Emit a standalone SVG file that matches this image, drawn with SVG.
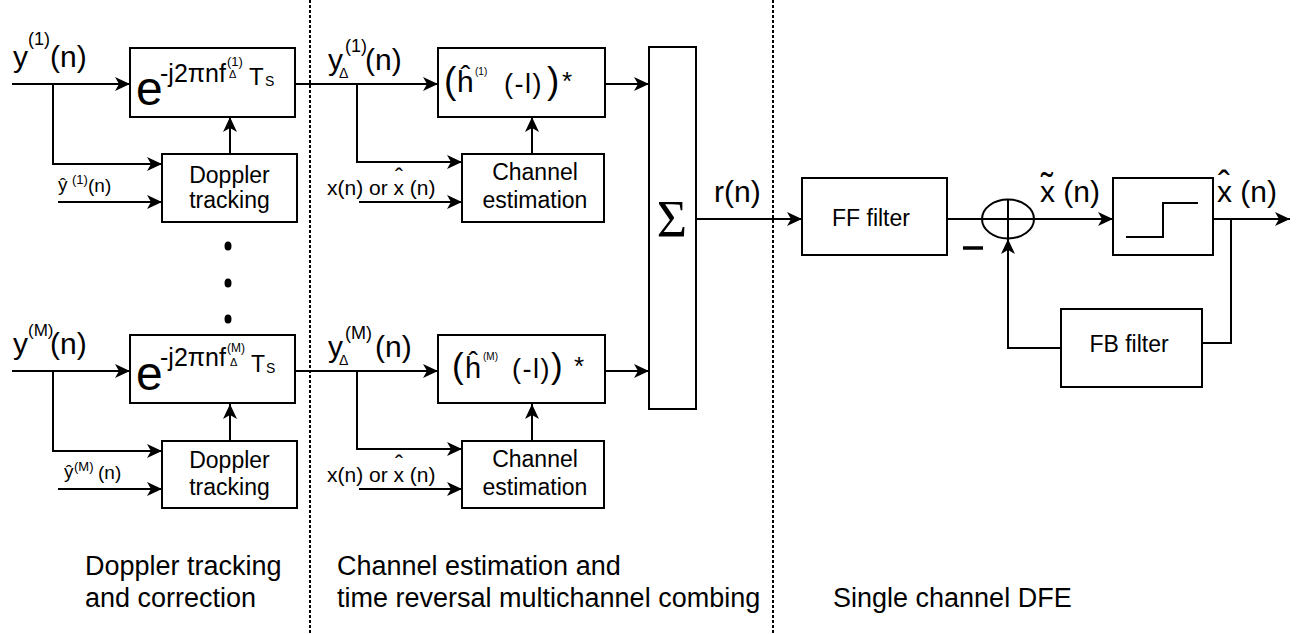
<svg xmlns="http://www.w3.org/2000/svg" width="1304" height="634" viewBox="0 0 1304 634">
<defs>
<marker id="arr" markerWidth="16" markerHeight="14" refX="15" refY="7" orient="auto" markerUnits="userSpaceOnUse">
<path d="M0,0 L15,7 L0,14 L4,7 Z" fill="#000"/>
</marker>
<style>
text{font-family:"Liberation Sans",Arial,sans-serif;fill:#000}
.box{fill:#fff;stroke:#000;stroke-width:2}
.ln{fill:none;stroke:#000;stroke-width:2}
.ar{fill:none;stroke:#000;stroke-width:2;marker-end:url(#arr)}
.dot{stroke:#000;stroke-width:2;stroke-dasharray:3 2}
.lbl{font-size:23px}
.big{font-size:30px}
.sec{font-size:27px}
.serif{font-family:"Liberation Serif","Times New Roman",serif}
</style>
</defs>
<rect width="1304" height="634" fill="#fff"/>
<g id="dividers">
<line class="dot" x1="310" y1="0" x2="310" y2="634"/>
<line class="dot" x1="773" y1="0" x2="773" y2="634"/>
</g>
<g id="connectors">
<path class="ar" d="M12,84 H130"/>
<path class="ar" d="M53,84 V164 H162"/>
<path class="ar" d="M58,202 H162"/>
<path class="ar" d="M230,154 V117"/>
<path class="ar" d="M295,84 H438"/>
<path class="ar" d="M357,84 V162 H462"/>
<path class="ar" d="M359,202 H462"/>
<path class="ar" d="M532,154 V117"/>
<path class="ar" d="M605,84 H649"/>
<path class="ar" d="M12,371 H130"/>
<path class="ar" d="M53,371 V451 H162"/>
<path class="ar" d="M58,489 H162"/>
<path class="ar" d="M230,441 V404"/>
<path class="ar" d="M295,371 H438"/>
<path class="ar" d="M357,371 V449 H462"/>
<path class="ar" d="M359,489 H462"/>
<path class="ar" d="M532,441 V404"/>
<path class="ar" d="M605,371 H649"/>
<path class="ar" d="M696,219 H802"/>
<path class="ln" d="M947,219 H982"/>
<path class="ar" d="M1034,219 H1113"/>
<path class="ar" d="M1213,219 H1290"/>
<path class="ln" d="M1231,219 V343 H1202"/>
<path class="ar" d="M1061,348 H1008 V239"/>
</g>
<g id="inputs-labels">
<text class="big" x="13" y="67">y</text>
<text x="28" y="45" font-size="18">(1)</text>
<text class="big" x="50" y="67">(n)</text>
<text x="58" y="191" font-size="19">ŷ</text>
<text x="72" y="184" font-size="13">(1)</text>
<text x="88" y="192" font-size="19">(n)</text>
<text class="big" x="13" y="354">y</text>
<text x="28" y="336" font-size="17">(M)</text>
<text class="big" x="50" y="354">(n)</text>
<text x="64" y="478" font-size="19">ŷ</text>
<text x="74" y="471" font-size="13">(M)</text>
<text x="98" y="479" font-size="19">(n)</text>
<text x="328" y="70" font-size="30">y</text>
<text x="339" y="78" font-size="14">Δ</text>
<text x="345" y="52" font-size="18">(1)</text>
<text x="365" y="70" font-size="30">(n)</text>
<text x="328" y="357" font-size="30">y</text>
<text x="339" y="365" font-size="14">Δ</text>
<text x="345" y="339" font-size="18">(M)</text>
<text x="375" y="357" font-size="30">(n)</text>
<text x="327" y="195" font-size="21">x(n) or x (n)</text>
<text x="395" y="185" font-size="24">ˆ</text>
<text x="327" y="482" font-size="21">x(n) or x (n)</text>
<text x="395" y="472" font-size="24">ˆ</text>
<text x="714" y="202" class="big">r(n)</text>
<text x="1040" y="202" class="big">x (n)</text>
<text x="1041" y="199" font-size="36">˜</text>
<text x="1217" y="202" class="big">x (n)</text>
<text x="1218" y="197" font-size="36">ˆ</text>
<line x1="963" y1="248" x2="983" y2="248" stroke="#000" stroke-width="3.5"/>
</g>
<g id="dots">
<ellipse cx="228" cy="246" rx="3.5" ry="4.5"/>
<ellipse cx="228" cy="283" rx="3.5" ry="4.5"/>
<ellipse cx="228" cy="319" rx="3.5" ry="4.5"/>
</g>
<g id="doppler-corr-1">
<rect class="box" x="130" y="48" width="165" height="69"/>
<text x="136" y="105" font-size="48">e</text>
<text x="160" y="82" font-size="25">-j2πnf</text>
<text x="227" y="66" font-size="13">(1)</text>
<text x="229" y="78" font-size="11">Δ</text>
<text x="249" y="85" font-size="24">T</text>
<text x="265" y="86" font-size="14">S</text>
</g>
<g id="doppler-track-1">
<rect class="box" x="162" y="154" width="135" height="68"/>
<text class="lbl" x="229.5" y="183" text-anchor="middle">Doppler</text>
<text class="lbl" x="229.5" y="208" text-anchor="middle">tracking</text>
</g>
<g id="tr-filter-1">
<rect class="box" x="438" y="48" width="167" height="69"/>
<text x="444" y="93" font-size="37">(</text>
<text x="457" y="92" font-size="30">ĥ</text>
<text x="475" y="75" font-size="10">(1)</text>
<text x="504" y="93" font-size="27" letter-spacing="1.5">(-l)</text>
<text x="547" y="93" font-size="37">)</text>
<text x="562" y="90" font-size="26">*</text>
</g>
<g id="chan-est-1">
<rect class="box" x="462" y="154" width="142" height="68"/>
<text class="lbl" x="535" y="180" text-anchor="middle">Channel</text>
<text class="lbl" x="535" y="208" text-anchor="middle">estimation</text>
</g>
<g id="doppler-corr-M">
<rect class="box" x="130" y="335" width="165" height="68"/>
<text x="136" y="390" font-size="48">e</text>
<text x="160" y="366" font-size="25">-j2πnf</text>
<text x="227" y="352" font-size="12">(M)</text>
<text x="230" y="366" font-size="11">Δ</text>
<text x="251" y="372" font-size="23">T</text>
<text x="266" y="373" font-size="14">S</text>
</g>
<g id="doppler-track-M">
<rect class="box" x="162" y="441" width="135" height="67"/>
<text class="lbl" x="229.5" y="468" text-anchor="middle">Doppler</text>
<text class="lbl" x="229.5" y="495" text-anchor="middle">tracking</text>
</g>
<g id="tr-filter-M">
<rect class="box" x="438" y="335" width="167" height="68"/>
<text x="452" y="378" font-size="35">(</text>
<text x="465" y="378" font-size="29">ĥ</text>
<text x="483" y="360" font-size="10">(M)</text>
<text x="512" y="378" font-size="27" letter-spacing="1.5">(-l)</text>
<text x="551" y="378" font-size="35">)</text>
<text x="574" y="375" font-size="26">*</text>
</g>
<g id="chan-est-M">
<rect class="box" x="462" y="441" width="142" height="67"/>
<text class="lbl" x="535" y="467" text-anchor="middle">Channel</text>
<text class="lbl" x="535" y="495" text-anchor="middle">estimation</text>
</g>
<g id="sum">
<rect class="box" x="649" y="47" width="47" height="362"/>
<text class="serif" x="672" y="237" font-size="52" text-anchor="middle">Σ</text>
</g>
<g id="ff-filter">
<rect class="box" x="802" y="178" width="145" height="77"/>
<text class="lbl" x="871" y="226" text-anchor="middle">FF filter</text>
</g>
<g id="adder">
<ellipse cx="1008" cy="219" rx="26" ry="19.5" fill="#fff" stroke="#000" stroke-width="2"/>
<line x1="982" y1="219" x2="1034" y2="219" stroke="#000" stroke-width="2"/>
<line x1="1008" y1="199.5" x2="1008" y2="238.5" stroke="#000" stroke-width="2"/>
</g>
<g id="decision">
<rect class="box" x="1113" y="178" width="100" height="77"/>
<polyline class="ln" points="1126,237 1163,237 1163,203 1198,203"/>
</g>
<g id="fb-filter">
<rect class="box" x="1061" y="309" width="141" height="78"/>
<text class="lbl" x="1129" y="352" text-anchor="middle">FB filter</text>
</g>
<g id="section-labels">
<text class="sec" x="85" y="575">Doppler tracking</text>
<text class="sec" x="85" y="607">and correction</text>
<text class="sec" x="337" y="575">Channel estimation and</text>
<text class="sec" x="337" y="607">time reversal multichannel combing</text>
<text class="sec" x="833" y="607">Single channel DFE</text>
</g>
</svg>
